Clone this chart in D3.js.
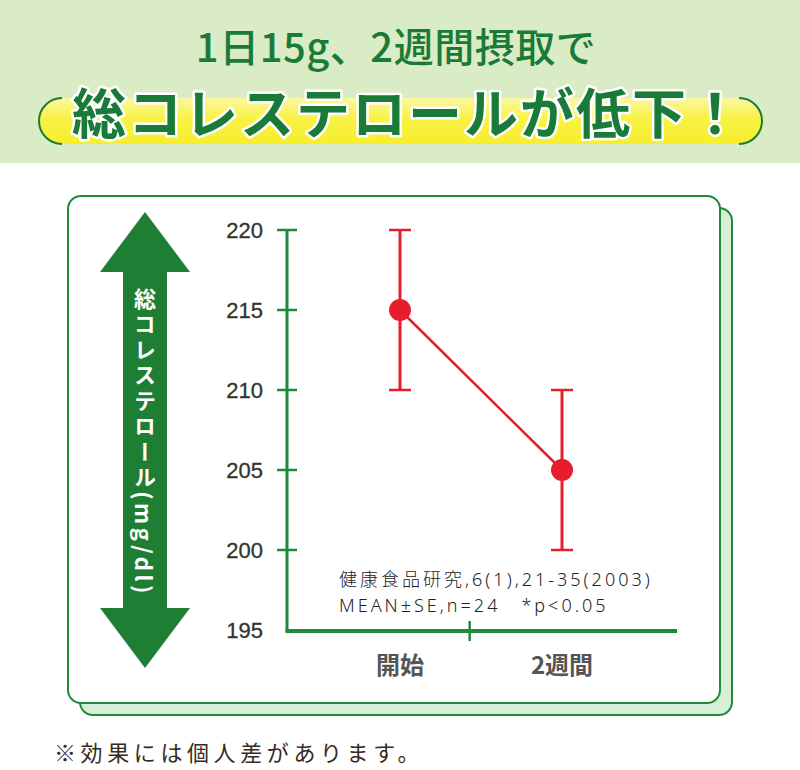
<!DOCTYPE html>
<html><head><meta charset="utf-8">
<script src="https://cdn.jsdelivr.net/npm/d3@7/dist/d3.min.js"></script>
<style>
html,body{margin:0;padding:0;background:#fff;}
svg{display:block;}
</style></head>
<body>
<svg id="chart" width="800" height="770"></svg>
<script>
// ---- data ----
const categories = ["開始", "2週間"];
const meanValues = [215, 205];
const seUpper = [220, 210];
const seLower = [210, 200];
const yTicks = [195, 200, 205, 210, 215, 220];
const titleLine1 = "1日15g、2週間摂取で";
const titleLine2 = "総コレステロールが低下！";
const axisLabel = "総コレステロール(mg/dl)";
const noteLines = ["健康食品研究,6(1),21-35(2003)", "MEAN±SE,n=24　*p<0.05"];
const footnote = "※効果には個人差があります。";

const svg = d3.select("#chart");
const green = "#1f8a3c", dark = "#1a7a38", red = "#e61e2b";
const jp = "'Noto Sans CJK JP', 'Noto Sans', sans-serif";

// header band
svg.append("rect").attr("x",0).attr("y",0).attr("width",800).attr("height",163).attr("fill","#d9ecc6");
svg.append("text").attr("x",396).attr("y",62).attr("text-anchor","middle")
  .attr("font-family",jp).attr("font-weight",500).attr("font-size",40).attr("letter-spacing",0.5).attr("fill",dark)
  .text(titleLine1);

// yellow pill
const grad = svg.append("defs").append("linearGradient").attr("id","yg").attr("x1",0).attr("x2",0).attr("y1",0).attr("y2",1);
grad.append("stop").attr("offset","0").attr("stop-color","#fbf7a0");
grad.append("stop").attr("offset","0.45").attr("stop-color","#f8f245");
grad.append("stop").attr("offset","1").attr("stop-color","#f6ee2c");
svg.append("rect").attr("x",38).attr("y",98).attr("width",725).attr("height",46).attr("rx",23)
  .attr("fill","url(#yg)");
svg.append("path").attr("d","M 62 98 A 23 23 0 0 0 62 144").attr("fill","none").attr("stroke",dark).attr("stroke-width",2);
svg.append("path").attr("d","M 739 98 A 23 23 0 0 1 739 144").attr("fill","none").attr("stroke",dark).attr("stroke-width",2);
svg.append("text").attr("x",408).attr("y",134).attr("text-anchor","middle")
  .attr("font-family",jp).attr("font-weight",700).attr("font-size",54).attr("letter-spacing",2)
  .attr("fill",dark).attr("stroke","#fff").attr("stroke-width",5).attr("paint-order","stroke")
  .attr("stroke-linejoin","round")
  .text(titleLine2);

// card
svg.append("rect").attr("x",80).attr("y",208).attr("width",652).attr("height",507).attr("rx",13)
  .attr("fill","#d6f0d8").attr("stroke",green).attr("stroke-width",2);
svg.append("rect").attr("x",68).attr("y",196).attr("width",652).attr("height",507).attr("rx",13)
  .attr("fill","#fff").attr("stroke",green).attr("stroke-width",2);

// double arrow
const ax = 145;
svg.append("path").attr("d",[
  `M ${ax} 212`, `L ${ax+45} 272`, `L ${ax+22} 272`, `L ${ax+22} 608`, `L ${ax+45} 608`,
  `L ${ax} 668`, `L ${ax-45} 608`, `L ${ax-22} 608`, `L ${ax-22} 272`, `L ${ax-45} 272`, "Z"].join(" "))
  .attr("fill","#1e7e34");
svg.append("text").attr("x",ax).attr("y",442).attr("text-anchor","middle")
  .attr("font-family",jp).attr("font-weight",700).attr("font-size",22).attr("letter-spacing",3.5).attr("fill","#fff")
  .style("writing-mode","vertical-rl").style("text-orientation","mixed")
  .text(axisLabel);

// scales
const y = d3.scaleLinear().domain([195, 220]).range([630, 230]);
const x = d3.scalePoint().domain(categories).range([400, 562]);
const axisX = 287;

// y axis
const yAxis = svg.append("g").attr("transform",`translate(${axisX},0)`)
  .call(d3.axisLeft(y).tickValues(yTicks).tickSize(0).tickPadding(24));
yAxis.select(".domain").remove();
yAxis.selectAll("text").attr("font-family","Liberation Sans, Arial, sans-serif")
  .attr("font-size",22).attr("fill","#333").attr("stroke","#333").attr("stroke-width",0.3).attr("dy","0.35em");
svg.append("line").attr("x1",axisX).attr("x2",axisX).attr("y1",y(220)).attr("y2",y(195)+2)
  .attr("stroke",green).attr("stroke-width",3);
svg.selectAll(".ytk").data(yTicks.filter(d=>d>195)).join("line").attr("class","ytk")
  .attr("x1",axisX-10).attr("x2",axisX+10).attr("y1",d=>y(d)).attr("y2",d=>y(d))
  .attr("stroke",green).attr("stroke-width",2.5);

// x axis
svg.append("line").attr("x1",axisX-1.5).attr("x2",677).attr("y1",y(195)+1).attr("y2",y(195)+1)
  .attr("stroke",green).attr("stroke-width",4);
const midTick = x(categories[0]) + 0.43 * x.step();
svg.append("line").attr("x1",midTick).attr("x2",midTick).attr("y1",y(195)-9).attr("y2",y(195)+11)
  .attr("stroke",green).attr("stroke-width",2.5);
svg.selectAll(".xl").data(categories).join("text").attr("class","xl")
  .attr("x",d=>x(d)).attr("y",674).attr("text-anchor","middle")
  .attr("font-family",jp).attr("font-weight",700).attr("font-size",24).attr("fill","#555")
  .text(d=>d);

// series
const pts = categories.map((c,i)=>({c, m:meanValues[i], hi:seUpper[i], lo:seLower[i]}));
svg.append("path").datum(pts).attr("fill","none").attr("stroke",red).attr("stroke-width",2.5)
  .attr("d", d3.line().x(d=>x(d.c)).y(d=>y(d.m)));
const eb = svg.selectAll(".eb").data(pts).join("g").attr("class","eb");
eb.append("line").attr("x1",d=>x(d.c)).attr("x2",d=>x(d.c)).attr("y1",d=>y(d.hi)).attr("y2",d=>y(d.lo))
  .attr("stroke",red).attr("stroke-width",3);
eb.append("line").attr("x1",d=>x(d.c)-11).attr("x2",d=>x(d.c)+11).attr("y1",d=>y(d.hi)).attr("y2",d=>y(d.hi))
  .attr("stroke",red).attr("stroke-width",2.5);
eb.append("line").attr("x1",d=>x(d.c)-11).attr("x2",d=>x(d.c)+11).attr("y1",d=>y(d.lo)).attr("y2",d=>y(d.lo))
  .attr("stroke",red).attr("stroke-width",2.5);
eb.append("circle").attr("cx",d=>x(d.c)).attr("cy",d=>y(d.m)).attr("r",11).attr("fill",red);

// note
svg.selectAll(".note").data(noteLines).join("text").attr("class","note")
  .attr("x",339).attr("y",(d,i)=>586+i*26)
  .attr("font-family","'Noto Sans', 'Noto Sans CJK JP', sans-serif").attr("font-weight",300)
  .attr("font-size",18).attr("letter-spacing",3).attr("fill","#222")
  .text(d=>d);

// footnote
svg.append("text").attr("x",54).attr("y",761)
  .attr("font-family",jp).attr("font-size",22).attr("letter-spacing",4.6).attr("fill","#3a2a1e")
  .text(footnote);
</script>
</body></html>
